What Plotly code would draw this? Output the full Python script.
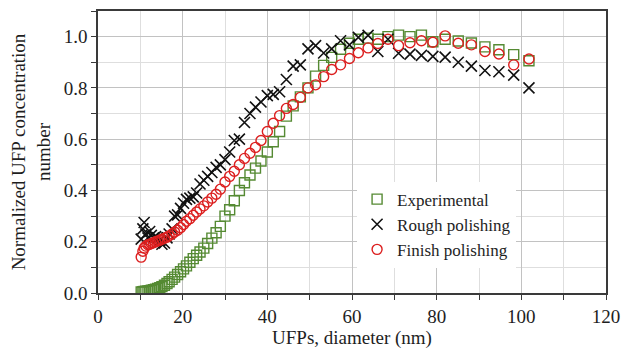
import plotly.graph_objects as go

diameter = [10.2, 10.6, 10.9, 11.3, 11.8, 12.2, 12.6, 13.1, 13.6, 14.1, 14.6, 15.1, 15.7, 16.3,
            16.8, 17.5, 18.1, 18.8, 19.5, 20.2, 20.9, 21.7, 22.5, 23.3, 24.1, 25.0, 25.9, 26.9,
            27.9, 28.9, 30.0, 31.1, 32.2, 33.4, 34.6, 35.9, 37.2, 38.5, 40.0, 41.4, 42.9, 44.5,
            46.1, 47.8, 49.6, 51.4, 53.3, 55.2, 57.3, 59.4, 61.5, 63.8, 66.1, 68.5, 71.0, 73.7,
            76.4, 79.1, 82.0, 85.1, 88.2, 91.4, 94.7, 98.2, 101.8]

experimental = [0.004, 0.005, 0.006, 0.007, 0.008, 0.009, 0.011, 0.013, 0.015, 0.018, 0.021, 0.025,
                0.030, 0.037, 0.044, 0.053, 0.062, 0.072, 0.083, 0.094, 0.106, 0.120, 0.134, 0.147,
                0.160, 0.175, 0.193, 0.214, 0.235, 0.260, 0.300, 0.325, 0.360, 0.400, 0.430, 0.460,
                0.487, 0.515, 0.550, 0.590, 0.630, 0.690, 0.730, 0.765, 0.800, 0.846, 0.888, 0.919,
                0.951, 0.974, 0.990, 0.994, 0.990, 1.000, 1.006, 1.000, 1.006, 0.980, 0.990, 0.983,
                0.975, 0.960, 0.949, 0.930, 0.906]

rough = [0.210, 0.250, 0.275, 0.230, 0.215, 0.240, 0.225, 0.215, 0.220, 0.215, 0.205, 0.190,
         0.195, 0.215, 0.230, 0.250, 0.300, 0.305, 0.330, 0.350, 0.365, 0.370, 0.375, 0.390,
         0.425, 0.440, 0.455, 0.470, 0.490, 0.500, 0.520, 0.550, 0.595, 0.600, 0.665, 0.700,
         0.725, 0.745, 0.770, 0.775, 0.785, 0.833, 0.885, 0.890, 0.952, 0.965, 0.936, 0.952,
         0.984, 0.968, 0.997, 1.005, 0.942, 0.990, 0.935, 0.932, 0.927, 0.923, 0.920, 0.900,
         0.885, 0.868, 0.863, 0.850, 0.800]

finish = [0.140, 0.163, 0.175, 0.183, 0.188, 0.190, 0.193, 0.196, 0.200, 0.203, 0.206, 0.210,
          0.214, 0.218, 0.223, 0.230, 0.238, 0.245, 0.255, 0.267, 0.280, 0.290, 0.303, 0.316,
          0.328, 0.340, 0.355, 0.370, 0.385, 0.405, 0.433, 0.455, 0.475, 0.500, 0.525, 0.545,
          0.568, 0.595, 0.630, 0.662, 0.692, 0.720, 0.735, 0.763, 0.800, 0.812, 0.844, 0.872,
          0.890, 0.915, 0.937, 0.956, 0.973, 0.990, 0.965, 0.976, 0.984, 0.978, 1.003, 0.974,
          0.968, 0.942, 0.932, 0.890, 0.913]

x_ticks = [0, 20, 40, 60, 80, 100, 120]
y_ticks = [0.0, 0.2, 0.4, 0.6, 0.8, 1.0]

FONT = "Liberation Serif, Times New Roman, serif"
GREEN = "#558a33"
RED = "#dc1f1f"
TXT = "#1e1e1e"

fig = go.Figure()
fig.add_trace(go.Scatter(
    x=diameter, y=experimental, mode="markers", name="Experimental",
    marker=dict(symbol="square-open", size=10, color=GREEN, line=dict(width=1.4, color=GREEN)),
))
fig.add_trace(go.Scatter(
    x=diameter, y=rough, mode="markers", name="Rough polishing",
    marker=dict(symbol="x-thin", size=11, color="#111111", line=dict(width=1.6, color="#111111")),
))
fig.add_trace(go.Scatter(
    x=diameter, y=finish, mode="markers", name="Finish polishing",
    marker=dict(symbol="circle-open", size=10, color=RED, line=dict(width=1.4, color=RED)),
))

axis_common = dict(
    showline=True, linecolor="#3a3a3a", linewidth=1.6, mirror=True,
    ticks="outside", ticklen=5, tickcolor="#3a3a3a", tickwidth=1.2,
    showgrid=True, gridcolor="#c2c2c2", gridwidth=1.2,
    zeroline=False,
    tickfont=dict(family=FONT, size=19, color=TXT),
)

fig.update_xaxes(
    range=[0, 120], tickvals=x_ticks, ticktext=[str(v) for v in x_ticks],
    minor=dict(dtick=10, tick0=0, ticks="outside", ticklen=5, tickcolor="#3a3a3a",
               showgrid=True, gridcolor="#dedede", gridwidth=1),
    title=dict(text="UFPs, diameter (nm)", font=dict(family=FONT, size=19, color=TXT),
               standoff=4),
    **axis_common,
)
fig.update_yaxes(
    range=[0, 1.1], tickvals=y_ticks, ticktext=[f"{v:.1f}" for v in y_ticks],
    minor=dict(dtick=0.1, tick0=0, ticks="outside", ticklen=5, tickcolor="#3a3a3a",
               showgrid=True, gridcolor="#dedede", gridwidth=1),
    title=dict(text="Normalized UFP concentration<br>number",
               font=dict(family=FONT, size=19, color=TXT), standoff=8),
    **axis_common,
)

fig.update_layout(
    width=629, height=353,
    margin=dict(l=98, r=15, t=9, b=58),
    paper_bgcolor="white", plot_bgcolor="white",
    font=dict(family=FONT, size=17, color=TXT),
    legend=dict(
        x=0.51, y=0.395, xanchor="left", yanchor="top",
        bgcolor="white", borderwidth=0,
        font=dict(family=FONT, size=17, color=TXT),
        itemwidth=30, tracegroupgap=0,
    ),
)

fig.write_html("out.html")
